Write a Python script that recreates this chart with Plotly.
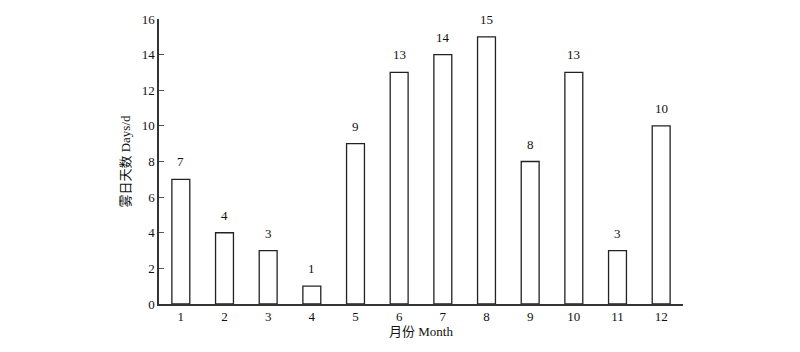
import plotly.graph_objects as go

months = [1, 2, 3, 4, 5, 6, 7, 8, 9, 10, 11, 12]
fog_days = [7, 4, 3, 1, 9, 13, 14, 15, 8, 13, 3, 10]
y_ticks = [0, 2, 4, 6, 8, 10, 12, 14, 16]

FONT = "Liberation Serif, Noto Sans CJK SC, serif"

fig = go.Figure()
fig.add_trace(go.Bar(
    x=months, y=fog_days, width=0.41,
    marker=dict(color="white", line=dict(color="#222222", width=1.3)),
    cliponaxis=False,
))

for m, v in zip(months, fog_days):
    fig.add_annotation(
        x=m, y=v, text=str(v), showarrow=False,
        yanchor="bottom", yshift=8,
        font=dict(family=FONT, size=13, color="#111111"),
    )

fig.update_layout(
    width=800, height=352,
    margin=dict(l=159, r=117, t=17, b=48),
    plot_bgcolor="white", paper_bgcolor="white",
    showlegend=False,
    font=dict(family=FONT, size=13, color="#111111"),
    xaxis=dict(
        range=[0.5, 12.5], tickmode="array", tickvals=months,
        ticktext=[str(m) for m in months],
        showline=True, linecolor="#333333", linewidth=1.5,
        showgrid=False, zeroline=False, ticks="",
        tickfont=dict(family=FONT, size=13, color="#111111"),
        title=dict(text="月份 Month", standoff=4, font=dict(family=FONT, size=13, color="#111111")),
    ),
    yaxis=dict(
        range=[0, 16], tickmode="array", tickvals=y_ticks,
        showline=True, linecolor="#333333", linewidth=1.5,
        showgrid=False, zeroline=False,
        ticks="inside", ticklen=5, tickcolor="#555555", tickwidth=1,
        tickfont=dict(family=FONT, size=13, color="#111111"),
        title=dict(text="雾日天数 Days/d", standoff=8, font=dict(family=FONT, size=13, color="#111111")),
    ),
    bargap=0.5,
)

fig.write_html("out.html")
